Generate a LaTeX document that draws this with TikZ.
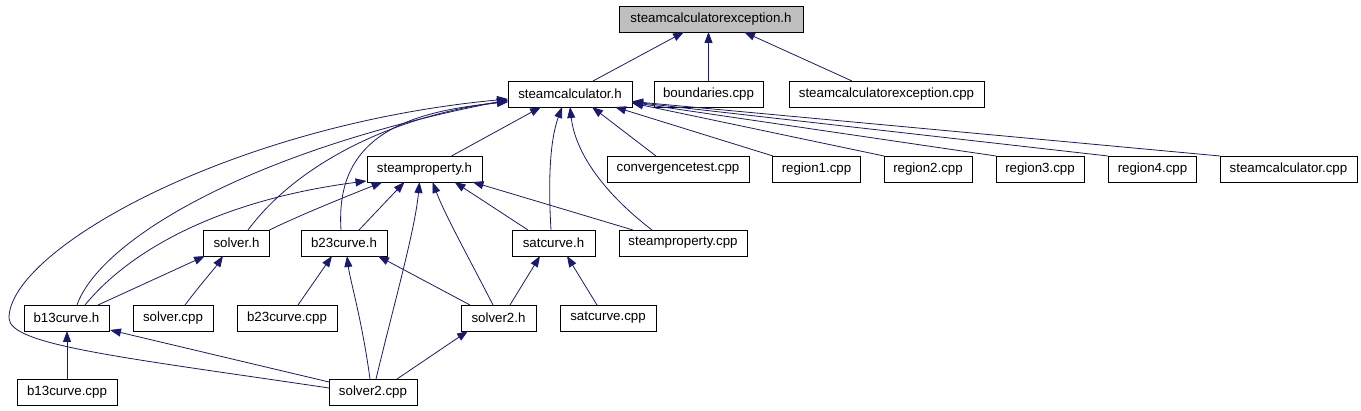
\documentclass[tikz,border=0pt]{standalone}
\usepackage{fontspec}
\setmainfont{Liberation Sans}
\usetikzlibrary{arrows.meta,calc}
\definecolor{edgeblue}{RGB}{25,25,112}
\definecolor{rootgray}{RGB}{191,191,191}
\begin{document}
\begin{tikzpicture}[x=1pt,y=-1pt,
  box/.style={draw=black, line width=0.9pt, rectangle, inner sep=0pt, minimum height=26pt, font=\fontsize{13.3}{16}\selectfont},
  edge/.style={draw=edgeblue, line width=0.8pt, -{Triangle[length=11pt,width=8pt]}}]
\useasboundingbox (0,0) rectangle (1361,411);
% row 1
\node[box, fill=rootgray, minimum width=184pt] (sceh) at (711,19) {steamcalculatorexception.h};
% row 2
\node[box, minimum width=124pt] (sch) at (570,94) {steamcalculator.h};
\node[box, minimum width=109pt] (bnd) at (708.5,94) {boundaries.cpp};
\node[box, minimum width=195pt] (scecpp) at (886.5,94) {steamcalculatorexception.cpp};
% row 3
\node[box, minimum width=115pt] (sph) at (424.5,169) {steamproperty.h};
\node[box, minimum width=142pt] (conv) at (678,169) {convergencetest.cpp};
\node[box, minimum width=88pt] (r1) at (816.5,169) {region1.cpp};
\node[box, minimum width=88pt] (r2) at (928,169) {region2.cpp};
\node[box, minimum width=88pt] (r3) at (1040,169) {region3.cpp};
\node[box, minimum width=88pt] (r4) at (1152.5,169) {region4.cpp};
\node[box, minimum width=137pt] (sccpp) at (1288.5,169) {steamcalculator.cpp};
% row 4
\node[box, minimum width=66pt] (solh) at (236.5,243) {solver.h};
\node[box, minimum width=86pt] (b23h) at (344,243) {b23curve.h};
\node[box, minimum width=83pt] (sath) at (553.5,243) {satcurve.h};
\node[box, minimum width=128pt] (spcpp) at (683,243) {steamproperty.cpp};
% row 5
\node[box, minimum width=85pt] (b13h) at (66.5,318) {b13curve.h};
\node[box, minimum width=80pt] (solcpp) at (173,318) {solver.cpp};
\node[box, minimum width=100pt] (b23cpp) at (287,318) {b23curve.cpp};
\node[box, minimum width=75pt] (sol2h) at (498.5,318) {solver2.h};
\node[box, minimum width=96pt] (satcpp) at (608,318) {satcurve.cpp};
% row 6
\node[box, minimum width=100pt] (b13cpp) at (67,392.5) {b13curve.cpp};
\node[box, minimum width=88pt] (sol2cpp) at (373,392.5) {solver2.cpp};
\coordinate (loopturn) at (9,318);

% into steamcalculatorexception.h
\draw[edge] ($(sch)+(23,-13)$) -- ($(sceh)+(-27,13)$);
\draw[edge] ($(bnd)+(0,-13)$) -- ($(sceh)+(-2.5,13)$);
\draw[edge] ($(scecpp)+(-34.5,-13)$) -- ($(sceh)+(33,13)$);

% into steamcalculator.h
\draw[edge] ($(sph)+(27,-13)$) -- ($(sch)+(-29,13)$);
\draw[edge] ($(conv)+(-22,-13)$) -- ($(sch)+(22,13)$);
\draw[edge] ($(r1)+(-43.5,-13)$) -- ($(sch)+(45,13)$);
\draw[edge] ($(r2)+(-44,-13)$) -- ($(sch)+(62,9)$);
\draw[edge] ($(r3)+(-44,-13)$) -- ($(sch)+(62,8.5)$);
\draw[edge] ($(r4)+(-44.5,-13)$) -- ($(sch)+(62,8)$);
\draw[edge] ($(sccpp)+(-68.5,-13)$) -- ($(sch)+(62,7.5)$);
\draw[edge] ($(solh)+(11.5,-13)$) .. controls (300,160) and (400,115) .. ($(sch)+(-62,7)$);
\draw[edge] ($(b23h)+(-3,-13)$) .. controls (335,140) and (400,112) .. ($(sch)+(-62,8)$);
\draw[edge] ($(sath)+(-2.5,-13)$) .. controls (548,180) and (550,140) .. ($(sch)+(-8,13)$);
\draw[edge] ($(spcpp)+(-31,-13)$) .. controls (600,190) and (575,150) .. ($(sch)+(0,13)$);
\draw[edge] ($(b13h)+(10.5,-13)$) .. controls (100,240) and (250,150) .. ($(sch)+(-62,6)$);
\draw[edge] ($(sol2cpp)+(-44,-4.5)$) .. controls (120,357) and (9,345) .. (loopturn)
  .. controls (9,250) and (230,125) .. ($(sch)+(-62,5)$);

% into steamproperty.h
\draw[edge] ($(solh)+(33,-13)$) .. controls (300,215) and (350,195) .. ($(sph)+(-42,13)$);
\draw[edge] ($(b23h)+(15,-13)$) -- ($(sph)+(-20,13)$);
\draw[edge] ($(sol2cpp)+(3,-13.5)$) .. controls (395,300) and (415,230) .. ($(sph)+(-5,13)$);
\draw[edge] ($(sol2h)+(-5.5,-13)$) .. controls (470,260) and (445,215) .. ($(sph)+(8,13)$);
\draw[edge] ($(sath)+(-25.5,-13)$) -- ($(sph)+(30,13)$);
\draw[edge] ($(spcpp)+(-50,-13)$) -- ($(sph)+(48,13)$);
\draw[edge] ($(b13h)+(18.5,-13)$) .. controls (130,250) and (220,200) .. ($(sph)+(-58,12)$);

% into solver.h
\draw[edge] ($(b13h)+(31.5,-13)$) -- ($(solh)+(-31.5,13)$);
\draw[edge] ($(solcpp)+(12,-13)$) .. controls (200,285) and (215,268) .. ($(solh)+(-13.5,13)$);

% into b23curve.h
\draw[edge] ($(b23cpp)+(11,-13)$) -- ($(b23h)+(-12,13)$);
\draw[edge] ($(sol2h)+(-28.5,-13)$) -- ($(b23h)+(34,13)$);
\draw[edge] ($(sol2cpp)+(-3,-13.5)$) .. controls (362,320) and (350,280) .. ($(b23h)+(3,13)$);

% into satcurve.h
\draw[edge] ($(sol2h)+(11.5,-13)$) -- ($(sath)+(-13.5,13)$);
\draw[edge] ($(satcpp)+(-11,-13)$) -- ($(sath)+(13.5,13)$);

% into b13curve.h
\draw[edge] ($(b13cpp)+(0,-13.5)$) -- ($(b13h)+(0.5,13)$);
\draw[edge] ($(sol2cpp)+(-44,-10.5)$) -- ($(b13h)+(43.5,12)$);

% into solver2.h
\draw[edge] ($(sol2cpp)+(24,-13.5)$) -- ($(sol2h)+(-30.5,13)$);
\end{tikzpicture}
\end{document}
